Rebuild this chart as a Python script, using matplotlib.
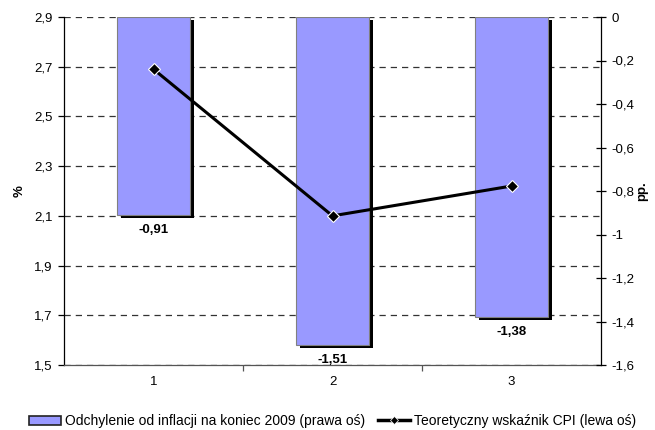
import matplotlib
matplotlib.use("Agg")
import matplotlib.pyplot as plt
import matplotlib.patheffects as pe
from matplotlib.ticker import FuncFormatter, FixedLocator
from matplotlib.lines import Line2D
from matplotlib.patches import Patch

plt.rcParams['font.family'] = ['Liberation Sans', 'DejaVu Sans']
plt.rcParams['font.size'] = 9.5

categories = [1, 2, 3]
deviation = [-0.91, -1.51, -1.38]      # right axis, pp.
cpi = [2.69, 2.10, 2.22]               # left axis, %
left_ticks = [1.5, 1.7, 1.9, 2.1, 2.3, 2.5, 2.7, 2.9]
right_ticks = [0, -0.2, -0.4, -0.6, -0.8, -1.0, -1.2, -1.4, -1.6]
bar_label = "Odchylenie od inflacji na koniec 2009 (prawa oś)"
line_label = "Teoretyczny wskaźnik CPI (lewa oś)"

def comma(v, pos=None):
    s = f"{v:.1f}" if abs(v - round(v)) > 1e-9 else f"{int(round(v))}"
    return s.replace(".", ",")

def comma2(v):
    return f"{v:.2f}".replace(".", ",")

fig = plt.figure(figsize=(6.55, 4.3), dpi=100)
ax1 = fig.add_axes([64 / 655, 65 / 430, 537 / 655, 348 / 430])

# left axis: CPI scale with dashed grid
ax1.set_xlim(0.5, 3.5)
ax1.set_ylim(1.5, 2.9)
ax1.yaxis.set_major_locator(FixedLocator(left_ticks))
ax1.yaxis.set_major_formatter(FuncFormatter(comma))
ax1.grid(axis='y', linestyle=(0, (5, 4)), color='#333333', linewidth=0.9)
ax1.set_axisbelow(True)
ax1.spines['top'].set_visible(False)
ax1.spines['right'].set_visible(False)
ax1.spines['left'].set_linewidth(0.9)
ax1.spines['bottom'].set_linewidth(0.9)
ax1.spines['bottom'].set_color('#555555')
ax1.tick_params(axis='y', direction='out', length=4, width=0.9, labelsize=9.5, pad=4)
ax1.set_xticks(categories)
ax1.set_xticklabels([str(c) for c in categories], fontsize=9.5)
ax1.tick_params(axis='x', which='major', length=0, pad=8)
ax1.set_xticks([1.5, 2.5], minor=True)
ax1.tick_params(axis='x', which='minor', direction='out', length=4, width=0.9, color='#555555')
ax1.set_ylabel('%', fontsize=9.5, fontweight='bold', labelpad=6)

# right axis: deviation bars
ax2 = ax1.twinx()
ax2.set_ylim(-1.6, 0)
ax2.yaxis.set_major_locator(FixedLocator(right_ticks))
ax2.yaxis.set_major_formatter(FuncFormatter(comma))
for s in ['top', 'left', 'bottom']:
    ax2.spines[s].set_visible(False)
ax2.spines['right'].set_linewidth(0.9)
ax2.tick_params(axis='y', direction='inout', length=7, width=0.9, labelsize=9.5, pad=4)
ax2.set_ylabel('pp.', fontsize=9.5, fontweight='bold', labelpad=1)

bars = ax2.bar(categories, deviation, width=0.41, color='#9999FF',
               edgecolor='#808080', linewidth=0.8)
for b in bars:
    b.set_path_effects([pe.SimplePatchShadow(offset=(2.8, -2.2), shadow_rgbFace='black', alpha=1.0),
                        pe.Normal()])
for x, v in zip(categories, deviation):
    ax2.annotate(comma2(v), xy=(x, v), xytext=(0, -6.5), textcoords='offset points',
                 ha='center', va='top', fontsize=9.5, fontweight='bold')

# CPI line on top of the bars
ax3 = ax1.twinx()
ax3.set_ylim(1.5, 2.9)
ax3.axis('off')
ax3.plot(categories, cpi, color='black', linewidth=2.2, marker='D', markersize=6,
         markerfacecolor='black', markeredgecolor='white', markeredgewidth=0.8, zorder=5)

handles = [
    Patch(facecolor='#9999FF', edgecolor='#222222', linewidth=1.2, label=bar_label),
    Line2D([0], [0], color='black', linewidth=2.5, marker='D', markersize=4,
           markerfacecolor='black', markeredgecolor='white', markeredgewidth=0.5, label=line_label),
]
fig.legend(handles=handles, loc='center', bbox_to_anchor=(0.5 + 5 / 655, 9 / 430), ncol=2,
           frameon=False, fontsize=10, handlelength=2.3, handletextpad=0.3,
           columnspacing=0.95, handleheight=0.6)

fig.savefig('out.png', dpi=100)
